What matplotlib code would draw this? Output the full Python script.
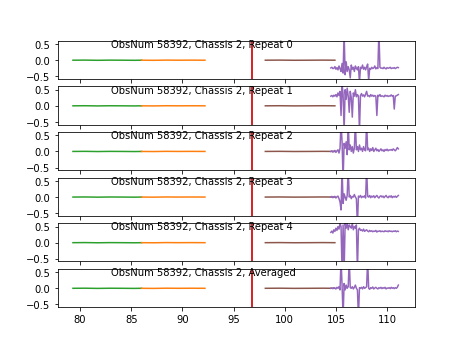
import numpy as np
import matplotlib.pyplot as plt

obsnum = 58392
chassis = 2
labels = ["Repeat 0", "Repeat 1", "Repeat 2", "Repeat 3", "Repeat 4", "Averaged"]

# the flat-looking bands
green_x = [79.3, 80.5, 81.7, 82.9, 84.1, 85.3, 86.0]
green_y = [0.0, 0.003, -0.003, 0.002, 0.0, -0.003, 0.0]
orange_x = [86.0, 87.2, 88.4, 89.6, 90.8, 92.2]
orange_y = [0.0, -0.003, 0.003, 0.0, 0.002, 0.0]
red_x = [96.8, 96.8]
red_y = [-5.0, 5.0]
brown_x = [98.1, 99.5, 100.9, 102.3, 103.7, 104.9]
brown_y = [0.0, 0.003, -0.002, 0.0, 0.003, 0.0]

# last band, 0.1 GHz channels from 104.5 to 111.1
purple_x = np.linspace(104.5, 111.1, 67)
purple_y = [
    [-0.24, -0.22, -0.26, -0.25, -0.20, -0.28, -0.23, -0.30, -0.18, -0.26,
     -0.35, -0.10, -0.40, 0.9, -0.45, -0.05, -0.35, -0.20, -0.30, -0.55,
     -0.15, -0.28, -0.22, -0.35, -0.18, -0.25, -0.30, -0.20, -0.70, -0.22,
     -0.26, -0.15, -0.28, -0.22, -0.30, -0.20, -0.12, -0.65, -0.25, -0.28,
     -0.22, -0.26, -0.24, -0.18, -0.27, -0.23, -0.26, 0.9, -0.22, -0.25,
     -0.24, -0.26, -0.22, -0.25, -0.27, -0.23, -0.25, -0.24, -0.22, -0.26,
     -0.24, -0.25, -0.23, -0.26, -0.24, -0.22, -0.23],
    [0.30, 0.32, 0.28, 0.33, 0.30, 0.35, 0.28, 0.40, 0.32, 0.45,
     -0.3, 0.7, 0.35, -0.8, 0.5, 0.2, 0.55, 0.3, -0.2, 0.45,
     0.25, -0.35, 0.4, 0.3, 0.5, 0.28, 0.35, 0.3, -0.8, 0.32,
     0.38, 0.3, 0.34, 0.28, 0.36, 0.45, 0.3, 0.32, 0.28, 0.35,
     0.3, 0.33, 0.29, 0.32, 0.3, -0.3, 0.33, 0.3, 0.35, 0.29,
     0.31, 0.3, 0.28, 0.33, 0.3, 0.32, 0.29, 0.31, 0.3, 0.34,
     0.3, 0.32, -0.1, 0.3, 0.31, 0.33, 0.35],
    [0.0, 0.02, -0.02, 0.01, 0.03, -0.03, 0.02, 0.05, -0.05, 0.1,
     0.9, 0.3, -0.9, 0.25, 0.1, 0.3, -0.1, 0.9, 0.05, 0.2,
     0.0, 0.15, -0.05, 0.1, 0.9, 0.05, 0.15, 0.0, 0.2, 0.05,
     0.1, 0.0, 0.15, 0.05, 0.02, 0.9, 0.05, 0.1, 0.0, 0.08,
     0.03, 0.12, 0.0, 0.05, 0.1, 0.02, 0.06, 0.0, 0.04, 0.08,
     0.02, 0.05, 0.0, 0.06, 0.03, 0.07, 0.02, 0.05, 0.04, 0.06,
     0.03, 0.08, 0.05, 0.02, 0.06, 0.12, 0.08],
    [0.0, 0.02, -0.02, 0.01, 0.02, -0.03, 0.01, 0.03, -0.05, -0.15,
     -0.4, 0.9, -0.2, 0.1, 0.0, -0.1, 0.05, 0.9, 0.0, 0.05,
     -0.05, 0.02, 0.0, 0.08, 0.0, -0.05, -0.9, 0.03, 0.0, 0.05,
     -0.02, 0.02, 0.0, 0.04, -0.03, 0.9, 0.02, 0.0, 0.05, -0.02,
     0.03, 0.0, 0.04, -0.02, 0.02, 0.05, 0.0, -0.03, 0.02, 0.04,
     0.0, 0.03, -0.02, 0.02, 0.05, 0.0, -0.02, 0.03, 0.0, 0.04,
     -0.02, 0.02, 0.0, 0.03, -0.01, 0.02, 0.05],
    [0.32, 0.36, 0.3, 0.4, 0.35, 0.45, 0.38, 0.5, 0.42, 0.6,
     0.5, -0.9, 0.55, -0.9, 0.6, 0.45, 0.6, 0.4, 0.55, 0.5,
     0.45, 0.6, 0.4, 0.5, 0.45, 0.55, -0.9, 0.4, 0.45, 0.38,
     0.4, 0.36, 0.42, 0.35, 0.38, 0.4, 0.36, 0.34, 0.38, 0.35,
     0.37, 0.34, 0.36, 0.35, 0.38, 0.33, 0.36, 0.35, 0.37, 0.34,
     0.36, 0.35, 0.34, 0.37, 0.35, 0.36, 0.34, 0.37, 0.35, 0.36,
     0.34, 0.36, 0.35, 0.37, 0.34, 0.36, 0.35],
    [0.0, 0.01, -0.01, 0.02, 0.0, -0.02, 0.03, 0.0, 0.05, -0.05,
     0.9, 0.1, -0.9, 0.15, -0.05, 0.1, 0.0, 0.05, 0.9, 0.02,
     0.0, 0.05, -0.02, 0.03, 0.1, 0.0, -0.05, -0.9, 0.02, 0.0,
     0.03, -0.02, 0.05, 0.0, 0.02, 0.05, 0.9, 0.0, -0.03, 0.02,
     0.0, 0.04, -0.02, 0.01, 0.03, 0.0, -0.02, 0.02, 0.0, 0.03,
     -0.01, 0.02, 0.0, 0.03, -0.02, 0.01, 0.0, 0.02, -0.01, 0.03,
     0.0, 0.02, -0.01, 0.02, 0.0, 0.03, 0.1],
]

fig, axes = plt.subplots(6, 1, sharex=True, figsize=(6.4, 4.8), dpi=72)
for i, ax in enumerate(axes):
    ax.plot(green_x, green_y, color="C2")
    ax.plot(orange_x, orange_y, color="C1")
    ax.plot(red_x, red_y, color="C3", lw=2)
    ax.plot(brown_x, brown_y, color="C5")
    ax.plot(purple_x, purple_y[i], color="C4")
    ax.set_ylim(-0.58, 0.6)
    ax.set_xlim(77.8, 112.7)
    ax.text(83, 0.4, "ObsNum %d, Chassis %d, %s" % (obsnum, chassis, labels[i]))

fig.savefig("out.png", dpi=72)
